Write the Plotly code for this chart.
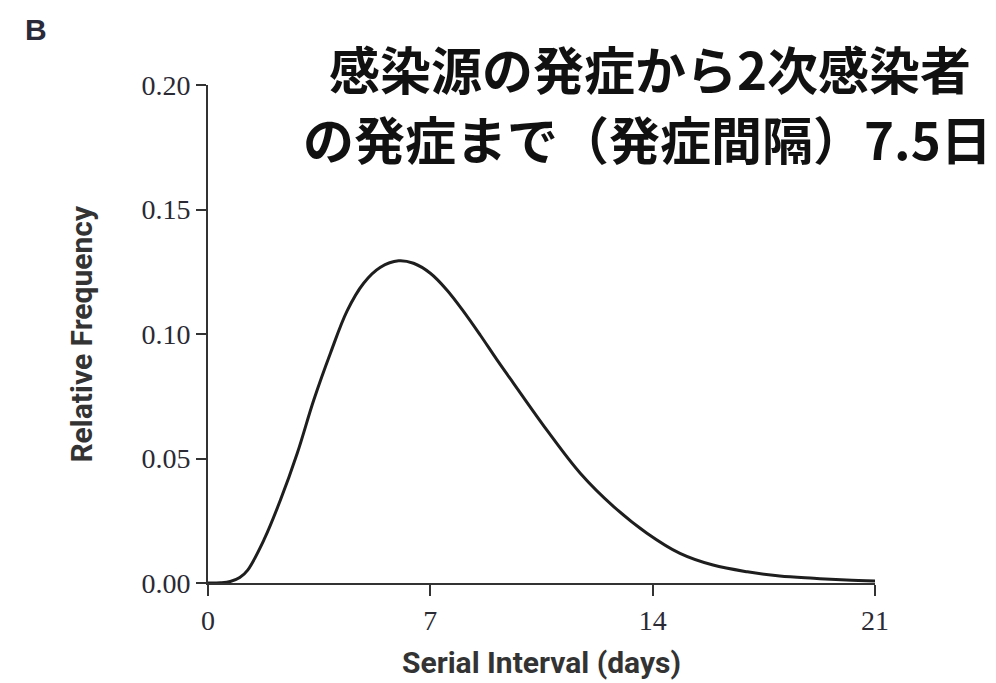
import plotly.graph_objects as go

# Values
days = [0, 0.4, 0.7, 1.0, 1.25, 1.76, 2.28, 2.81, 3.33, 3.86, 4.38, 4.90, 5.43, 6.0,
        6.47, 7.0, 7.52, 8.05, 8.57, 9.1, 9.62, 10.67, 11.72, 12.78, 13.82, 14.86,
        15.9, 16.98, 18.0, 19.07, 20.1, 21.0]
freq = [0.0, 0.0001, 0.0006, 0.0022, 0.0052, 0.0173, 0.0333, 0.0521, 0.0735, 0.0925,
        0.1093, 0.1204, 0.1268, 0.1294, 0.1284, 0.1244, 0.1177, 0.109, 0.0996, 0.0896,
        0.0802, 0.0614, 0.0441, 0.0306, 0.020, 0.0119, 0.0072, 0.0045, 0.0028, 0.0019,
        0.0012, 0.0008]

x_ticks = [0, 7, 14, 21]
y_ticks = [0.00, 0.05, 0.10, 0.15, 0.20]
y_tick_labels = ["0.00", "0.05", "0.10", "0.15", "0.20"]

title_line1 = "感染源の発症から2次感染者"
title_line2 = "の発症まで（発症間隔）7.5日"
panel_label = "B"
x_title = "Serial Interval (days)"
y_title = "Relative Frequency"

OFF = 8  # page body margin of the browser
W, H = 996 - OFF, 683 - OFF
# plot area edges in page pixels
L, R, T, B = 207.5, 875, 85, 583

tick_font = dict(family="Liberation Serif, DejaVu Serif, serif", size=28, color="#2a2a35")
label_font = dict(family="Roboto, sans-serif", size=30, color="#333333")

fig = go.Figure()
fig.add_trace(go.Scatter(x=days, y=freq, mode="lines",
                         line=dict(color="#1e1e1e", width=3, shape="spline", smoothing=1.0),
                         hoverinfo="skip", showlegend=False))

fig.update_layout(
    width=W, height=H,
    margin=dict(l=L - OFF, r=996 - R, t=T - OFF, b=683 - B, pad=0),
    paper_bgcolor="white", plot_bgcolor="white",
    xaxis=dict(range=[0, 21], tickvals=x_ticks, ticktext=[str(v) for v in x_ticks],
               showgrid=False, zeroline=False, showline=True, linecolor="#333", linewidth=2,
               ticks="outside", ticklen=11, tickwidth=2, tickcolor="#333",
               tickfont=tick_font, fixedrange=True),
    yaxis=dict(range=[0, 0.20], tickvals=y_ticks, ticktext=y_tick_labels,
               showgrid=False, zeroline=False, showline=True, linecolor="#333", linewidth=2,
               ticks="outside", ticklen=10, tickwidth=2, tickcolor="#333",
               tickfont=tick_font, fixedrange=True),
)

def px_x(px):
    return (px - L) / (R - L)

def px_y(py):
    return (B - py) / (B - T)

anns = [
    dict(text=f"<b>{x_title}</b>", x=0.5, y=px_y(662), font=label_font),
    dict(text=f"<b>{y_title}</b>", x=px_x(80), y=0.5, textangle=-90, font=label_font),
    dict(text=f"<b>{panel_label}</b>", x=px_x(35), y=px_y(30),
         font=dict(family="Liberation Sans, Arial, sans-serif", size=30, color="#2a2a3a")),
    dict(text=f"<b>{title_line1}</b>", x=px_x(650), y=px_y(68),
         font=dict(family="Noto Sans CJK JP, sans-serif", size=51, color="#111")),
    dict(text=f"<b>{title_line2}</b>", x=px_x(647), y=px_y(138),
         font=dict(family="Noto Sans CJK JP, sans-serif", size=51, color="#111")),
]
for a in anns:
    a.update(xref="paper", yref="paper", xanchor="center", yanchor="middle", showarrow=False)
    fig.add_annotation(**a)

fig.write_html("out.html")
